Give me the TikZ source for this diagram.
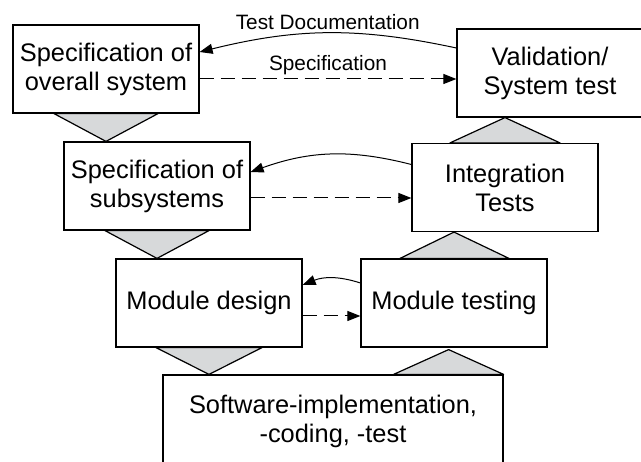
\documentclass[tikz,border=0pt]{standalone}
\usepackage{fontspec}
\setmainfont{Liberation Sans}
\usetikzlibrary{shapes,arrows.meta,positioning,calc}
\definecolor{wedgegray}{RGB}{215,217,218}

\begin{document}
\begin{tikzpicture}[x=1pt, y=1pt, node distance=117pt,
    box/.style={rectangle, draw, line width=1.2pt, fill=white, minimum width=186pt, minimum height=88pt, inner sep=0pt, align=center, font=\fontsize{25.4}{29}\selectfont},
    wedge/.style={draw, line width=1.2pt, fill=wedgegray, line join=round},
    arrow/.style={line width=1pt, -{Triangle[length=13pt,width=10pt]}},
    dasharrow/.style={arrow, dash pattern=on 14pt off 7pt},
    lbl/.style={font=\fontsize{20.8}{24}\selectfont}]

    \useasboundingbox (0,0) rectangle (641,-462);

    % Nodes
    \node [box] (sos) at (106,-69) {Specification of\\overall system};
    \node [box, below of=sos, xshift=51pt] (sub) {Specification of\\subsystems};
    \node [box, below of=sub, xshift=52pt] (mod) {Module design};
    \node [box, below of=mod, xshift=124pt, node distance=118pt, minimum width=340pt, minimum height=92pt] (sw) {Software-implementation,\\-coding, -test};
    \node [box, right of=sos, node distance=444pt, yshift=-4pt] (val) {Validation/\\System test};
    \node [box, right of=sub, node distance=348pt, yshift=-1.5pt] (integ) {Integration\\Tests};
    \node [box, right of=mod, node distance=245pt] (mtest) {Module testing};

    % Wedges
    \draw [wedge] ($(sos.south)+(-52,0)$) -- ($(sos.south)+(52,0)$) -- (sos.south |- sub.north) -- cycle;
    \draw [wedge] ($(sub.south)+(-52,0)$) -- ($(sub.south)+(52,0)$) -- (sub.south |- mod.north) -- cycle;
    \draw [wedge] ($(mod.south)+(-53,0)$) -- ($(mod.south)+(53,0)$) -- (mod.south |- sw.north) -- cycle;
    \draw [wedge] ($(integ.north)+(-55,0)$) -- ($(integ.north)+(55,0)$) -- (integ.north |- val.south) -- cycle;
    \draw [wedge] ($(mtest.north)+(-54,0)$) -- ($(mtest.north)+(55,0)$) -- (mtest.north |- integ.south) -- cycle;
    \coordinate (swtip) at ($(sw.north east)+(-55,0)$);
    \draw [wedge] (sw.north east) -- ($(sw.north east)+(-110,0)$) -- ($(swtip |- mtest.south)+(0,-2)$) -- cycle;

    % Arrows
    \draw [arrow] ([yshift=25pt]val.west) to[bend right=13] node[lbl, above] {Test Documentation} ([yshift=17pt]sos.east);
    \draw [dasharrow] ([yshift=-10pt]sos.east) -- node[lbl, above] {Specification} ([yshift=-6pt]val.west);
    \draw [arrow] ([yshift=23pt]integ.west) to[bend right=17] ([yshift=14pt]sub.east);
    \draw [dasharrow] ([yshift=-12pt]sub.east) -- ([yshift=-10.5pt]integ.west);
    \draw [arrow] ([yshift=20pt]mtest.west) to[bend right=20] ([yshift=18pt]mod.east);
    \draw [dasharrow] ([yshift=-13pt]mod.east) -- ([yshift=-13pt]mtest.west);

\end{tikzpicture}
\end{document}
